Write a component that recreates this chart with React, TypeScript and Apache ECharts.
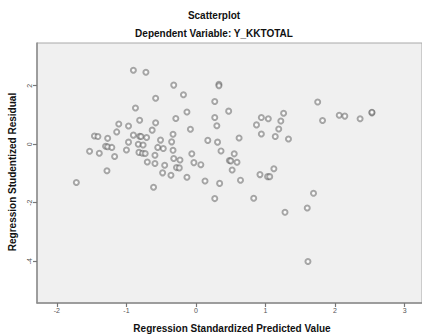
import React, { useEffect, useRef } from "react";
import * as echarts from "echarts";

const chartTitle = "Scatterplot";
const chartSubtitle = "Dependent Variable: Y_KKTOTAL";
const xAxisName = "Regression Standardized Predicted Value";
const yAxisName = "Regression Studentized Residual";

const predicted: number[] = [
  -0.90, -0.72, -0.58, -0.87, -0.81, -1.11, -0.97, -0.58, -1.14, -0.63,
  -1.46, -1.41, -1.27, -0.90, -0.81, -0.79, -0.71, -0.97, -0.83, -0.76,
  -1.30, -1.27, -1.21, -1.53, -1.39, -1.00, -0.82, -0.77, -0.73, -1.17,
  -0.59, -0.70, -0.59, -1.28, -1.72, -0.61,
  -0.32, 0.33, 0.33, -0.18, 0.27, 0.47, -0.13, -0.29, 0.27, 0.30,
  -0.08, -0.33, 0.94, 1.04, 0.87, 0.94, 0.62, -0.51, -0.35, 0.17,
  0.31, -0.55, -0.47, -0.33, 0.36, -0.06, 0.55, -0.32, -0.23, -0.03,
  0.07, 0.48, 0.50, 0.59, -0.45, -0.28, -0.24, 0.52, -0.48, -0.36,
  0.92, 1.03, 1.06, -0.13, 0.13, 0.64, 0.34, 0.27, 0.83,
  1.75, 1.26, 1.22, 1.82, 2.06, 2.14, 2.36, 2.53, 2.53, 1.19,
  1.14, 1.33, 1.12, 1.69, 1.60, 1.28, 1.61,
];

const residual: number[] = [
  2.53, 2.46, 1.57, 1.24, 0.82, 0.69, 0.62, 0.73, 0.42, 0.48,
  0.28, 0.26, 0.20, 0.31, 0.27, 0.26, 0.23, 0.07, 0.00, -0.03,
  -0.07, -0.09, -0.11, -0.24, -0.31, -0.20, -0.28, -0.31, -0.32, -0.42,
  -0.38, -0.61, -0.66, -0.91, -1.31, -1.47,
  2.02, 2.05, 2.00, 1.69, 1.46, 1.13, 1.10, 0.88, 0.91, 0.63,
  0.51, 0.34, 0.91, 0.87, 0.66, 0.35, 0.21, 0.14, 0.08, 0.13,
  0.07, -0.11, -0.15, -0.21, -0.23, -0.33, -0.33, -0.49, -0.54, -0.63,
  -0.70, -0.56, -0.57, -0.62, -0.72, -0.80, -0.81, -0.88, -0.98, -1.06,
  -1.04, -1.11, -1.11, -1.13, -1.26, -1.23, -1.34, -1.86, -1.85,
  1.44, 1.06, 0.79, 0.81, 0.99, 0.96, 0.87, 1.07, 1.09, 0.52,
  0.26, 0.18, -0.84, -1.68, -2.18, -2.33, -4.01,
];

const xMin = -2.286;
const xMax = 3.25;
const yMin = -5.43;
const yMax = 3.46;

export default function App() {
  const ref = useRef<HTMLDivElement>(null);

  useEffect(() => {
    if (!ref.current) return;
    const chart = echarts.init(ref.current, undefined, { renderer: "svg" });
    const data = predicted.map((x, i) => [x, residual[i]]);
    const font = "'Liberation Sans', Arial, sans-serif";
    chart.setOption({
      animation: false,
      backgroundColor: "#ffffff",
      grid: {
        left: 37,
        top: 43,
        right: -2,
        bottom: 32,
        show: true,
        backgroundColor: "#f0f0f0",
        borderColor: "#a8a8a8",
        borderWidth: 1,
      },
      graphic: [
        {
          type: "text",
          style: {
            text: chartTitle,
            x: 214,
            y: 15,
            textAlign: "center",
            textVerticalAlign: "middle",
            font: `bold 10px ${font}`,
            fill: "#111",
          },
        },
        {
          type: "text",
          style: {
            text: chartSubtitle,
            x: 214,
            y: 33,
            textAlign: "center",
            textVerticalAlign: "middle",
            font: `bold 10px ${font}`,
            fill: "#111",
          },
        },
        {
          type: "text",
          style: {
            text: xAxisName,
            x: 232,
            y: 328,
            textAlign: "center",
            textVerticalAlign: "middle",
            font: `bold 10px ${font}`,
            fill: "#111",
          },
        },
        {
          type: "text",
          x: 12,
          y: 172,
          rotation: Math.PI / 2,
          style: {
            text: yAxisName,
            x: 0,
            y: 0,
            textAlign: "center",
            textVerticalAlign: "middle",
            font: `bold 10px ${font}`,
            fill: "#111",
          },
        },
      ],
      xAxis: {
        type: "value",
        min: xMin,
        max: xMax,
        splitLine: { show: false },
        axisLine: { show: true, onZero: false, lineStyle: { color: "#8c8c8c", width: 1.5 } },
        axisTick: { show: true, inside: false, length: 4, lineStyle: { color: "#777", width: 1.2 } },
        axisLabel: {
          showMinLabel: false,
          showMaxLabel: false,
          fontSize: 7,
          color: "#555",
          margin: 4,
          fontFamily: font,
        },
      },
      yAxis: {
        type: "value",
        min: yMin,
        max: yMax,
        splitLine: { show: false },
        axisLine: { show: true, onZero: false, lineStyle: { color: "#8c8c8c", width: 1.5 } },
        axisTick: { show: true, inside: false, length: 4, lineStyle: { color: "#777", width: 1.2 } },
        axisLabel: {
          showMinLabel: false,
          showMaxLabel: false,
          fontSize: 7,
          color: "#555",
          margin: 4,
          rotate: 90,
          fontFamily: font,
        },
      },
      series: [
        {
          type: "scatter",
          data,
          symbol: "emptyCircle",
          symbolSize: 5,
          itemStyle: {
            color: "rgba(80,80,80,0.6)",
            borderColor: "rgba(80,80,80,0.6)",
            borderWidth: 0.9,
          },
        },
      ],
    });
    return () => chart.dispose();
  }, []);

  return (
    <div
      ref={ref}
      style={{ position: "fixed", left: 0, top: 0, width: 422, height: 335 }}
    />
  );
}
